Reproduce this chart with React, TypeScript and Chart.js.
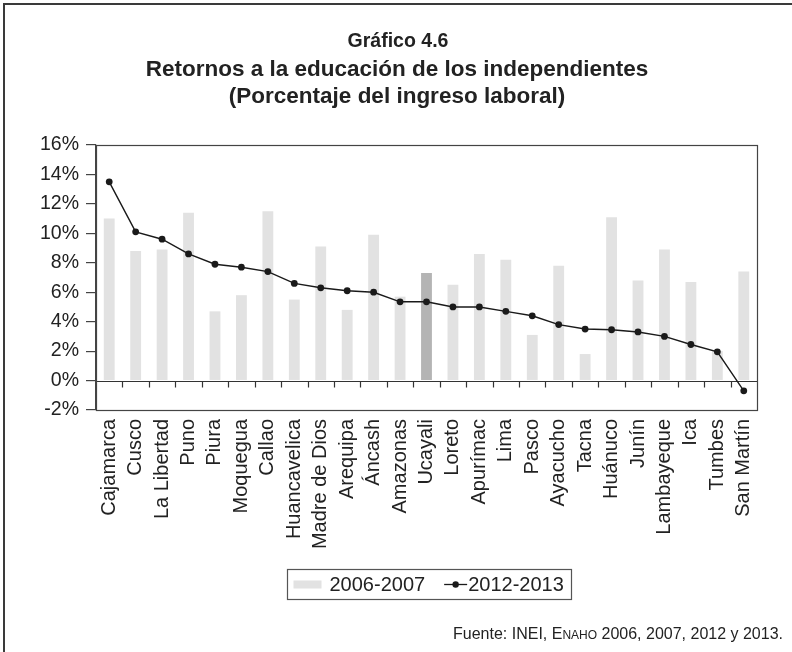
import React, { useEffect, useRef } from "react";
import { Chart, registerables } from "chart.js";

Chart.register(...registerables);

const categories = [
  "Cajamarca", "Cusco", "La Libertad", "Puno", "Piura", "Moquegua", "Callao",
  "Huancavelica", "Madre de Dios", "Arequipa", "Áncash", "Amazonas", "Ucayali",
  "Loreto", "Apurímac", "Lima", "Pasco", "Ayacucho", "Tacna", "Huánuco", "Junín",
  "Lambayeque", "Ica", "Tumbes", "San Martín",
];
const values2006 = [
  11.0, 8.8, 8.9, 11.4, 4.7, 5.8, 11.5, 5.5, 9.1, 4.8, 9.9, 5.7, 7.3,
  6.5, 8.6, 8.2, 3.1, 7.8, 1.8, 11.1, 6.8, 8.9, 6.7, 2.0, 7.4,
];
const values2012 = [
  13.5, 10.1, 9.6, 8.6, 7.9, 7.7, 7.4, 6.6, 6.3, 6.1, 6.0, 5.35, 5.35,
  5.0, 5.0, 4.7, 4.4, 3.8, 3.5, 3.45, 3.3, 3.0, 2.45, 1.95, -0.7,
];
const highlighted = "Ucayali";
const seriesLabels = ["2006-2007", "2012-2013"];
const yMin = -2;
const yMax = 16;
const yStep = 2;
const titleLines = [
  "Gráfico 4.6",
  "Retornos a la educación de los independientes",
  "(Porcentaje del ingreso laboral)",
];

const FONT = "'Liberation Sans', Arial, Helvetica, sans-serif";
const TEXT = "#222222";
const BAR = "#e2e2e2";
const BAR_HI = "#b4b4b4";
const LINE = "#1a1a1a";

const decor = {
  id: "decor",
  beforeDatasetsDraw(chart: any) {
    const { ctx, chartArea } = chart;
    const xs = chart.scales.x;
    const ys = chart.scales.y;
    const y0 = Math.round(ys.getPixelForValue(0)) + 0.5;
    ctx.save();
    ctx.strokeStyle = "#333333";
    ctx.lineWidth = 1.2;
    ctx.beginPath();
    ctx.moveTo(chartArea.left, y0);
    ctx.lineTo(chartArea.right, y0);
    for (let i = 1; i < categories.length; i++) {
      const x = Math.round((xs.getPixelForValue(i - 1) + xs.getPixelForValue(i)) / 2) + 0.5;
      ctx.moveTo(x, y0);
      ctx.lineTo(x, y0 + 6);
    }
    ctx.stroke();
    ctx.restore();
  },
  afterDraw(chart: any) {
    const { ctx, chartArea } = chart;
    ctx.save();
    // plot box
    ctx.strokeStyle = "#444444";
    ctx.lineWidth = 1.2;
    ctx.strokeRect(
      Math.round(chartArea.left) + 0.5,
      Math.round(chartArea.top) + 0.5,
      Math.round(chartArea.right - chartArea.left),
      Math.round(chartArea.bottom - chartArea.top)
    );
    // outer frame
    ctx.strokeStyle = "#3a3a3a";
    ctx.lineWidth = 2;
    ctx.beginPath();
    ctx.moveTo(4, 652);
    ctx.lineTo(4, 4);
    ctx.lineTo(792, 4);
    ctx.stroke();

    // titles
    ctx.fillStyle = TEXT;
    ctx.textAlign = "center";
    ctx.textBaseline = "middle";
    ctx.font = `bold 19.5px ${FONT}`;
    ctx.fillText(titleLines[0], 398, 42);
    ctx.font = `bold 22.5px ${FONT}`;
    ctx.fillText(titleLines[1], 397, 70);
    ctx.fillText(titleLines[2], 397, 97);

    // legend
    ctx.font = `20px ${FONT}`;
    const w1 = ctx.measureText(seriesLabels[0]).width;
    const w2 = ctx.measureText(seriesLabels[1]).width;
    const W = 6 + 28 + 8 + w1 + 19 + 23 + 1 + w2 + 8;
    const cx = (chartArea.left + chartArea.right) / 2 + 3;
    const lx = Math.round(cx - W / 2) + 0.5;
    const ly = 569.5;
    const lh = 30;
    ctx.strokeStyle = "#555555";
    ctx.lineWidth = 1.2;
    ctx.strokeRect(lx, ly, Math.round(W), lh);
    const midY = ly + lh / 2;
    let x = lx + 6;
    ctx.fillStyle = BAR;
    ctx.fillRect(x, midY - 4, 28, 8);
    x += 28 + 8;
    ctx.fillStyle = TEXT;
    ctx.textAlign = "left";
    ctx.fillText(seriesLabels[0], x, midY + 1);
    x += w1 + 19;
    ctx.strokeStyle = LINE;
    ctx.lineWidth = 1.3;
    ctx.beginPath();
    ctx.moveTo(x, midY);
    ctx.lineTo(x + 23, midY);
    ctx.stroke();
    ctx.fillStyle = LINE;
    ctx.beginPath();
    ctx.arc(x + 11.5, midY, 3.2, 0, Math.PI * 2);
    ctx.fill();
    x += 24;
    ctx.fillStyle = TEXT;
    ctx.fillText(seriesLabels[1], x, midY + 1);

    // footer (with small caps for ENAHO)
    const big = `16px ${FONT}`;
    const small = `12px ${FONT}`;
    const parts: [string, string][] = [
      ["Fuente: INEI, ", big],
      ["E", big],
      ["NAHO", small],
      [" 2006, 2007, 2012 y 2013.", big],
    ];
    let total = 0;
    const widths = parts.map(([t, f]) => {
      ctx.font = f;
      const w = ctx.measureText(t).width;
      total += w;
      return w;
    });
    let fx = 783 - total;
    ctx.textBaseline = "alphabetic";
    ctx.textAlign = "left";
    ctx.fillStyle = TEXT;
    parts.forEach(([t, f], i) => {
      ctx.font = f;
      ctx.fillText(t, fx, 639);
      fx += widths[i];
    });
    ctx.restore();
  },
};

export default function App() {
  const ref = useRef<HTMLCanvasElement | null>(null);
  useEffect(() => {
    if (!ref.current) return;
    const chart = new Chart(ref.current, {
      type: "bar",
      data: {
        labels: categories,
        datasets: [
          {
            type: "line",
            label: seriesLabels[1],
            data: values2012,
            borderColor: LINE,
            backgroundColor: LINE,
            borderWidth: 1.4,
            pointRadius: 3.4,
            pointBackgroundColor: LINE,
            pointBorderWidth: 0,
            tension: 0,
            order: 0,
          } as any,
          {
            type: "bar",
            label: seriesLabels[0],
            data: values2006,
            backgroundColor: categories.map((c) => (c === highlighted ? BAR_HI : BAR)),
            borderWidth: 0,
            barPercentage: 0.41,
            categoryPercentage: 1,
            order: 1,
          } as any,
        ],
      },
      options: {
        animation: false,
        responsive: false,
        maintainAspectRatio: false,
        layout: { padding: { top: 145, left: 0, right: 35, bottom: 0 } },
        plugins: {
          legend: { display: false },
          title: { display: false },
          tooltip: { enabled: false },
        },
        scales: {
          x: {
            offset: true,
            grid: { display: false },
            border: { display: false },
            ticks: {
              autoSkip: false,
              maxRotation: 90,
              minRotation: 90,
              padding: 1,
              color: TEXT,
              font: { family: FONT, size: 20 },
            },
            afterFit(scale: any) {
              scale.height = 652 - 410;
            },
          },
          y: {
            min: yMin,
            max: yMax,
            grid: {
              drawOnChartArea: false,
              drawTicks: true,
              tickLength: 10,
              color: "#444444",
              lineWidth: 1.2,
            },
            border: { display: true, color: "#444444", width: 1.2 },
            ticks: {
              stepSize: yStep,
              padding: 7,
              color: TEXT,
              font: { family: FONT, size: 19.5 },
              callback: (v: any) => `${v}%`,
            },
            afterFit(scale: any) {
              scale.width = 96;
            },
          },
        },
      },
      plugins: [decor],
    });
    return () => chart.destroy();
  }, []);
  return (
    <div style={{ position: "absolute", left: 0, top: 0, width: 792, height: 652, background: "#fff" }}>
      <canvas ref={ref} width={792} height={652} style={{ display: "block" }} />
    </div>
  );
}
